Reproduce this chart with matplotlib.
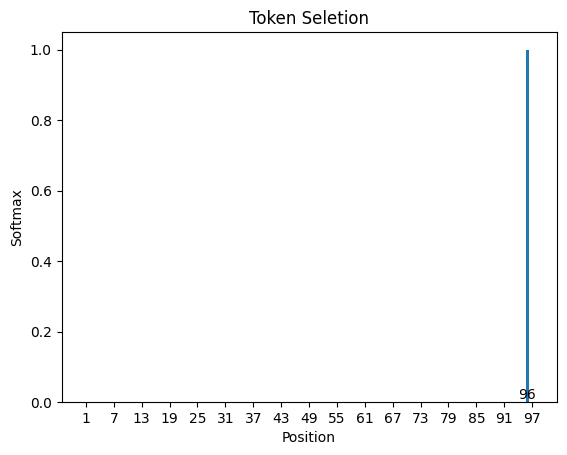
import matplotlib
matplotlib.use("Agg")
import matplotlib.pyplot as plt

positions = list(range(1, 98))
softmax = [0.0] * 95 + [1.0] + [0.0]
tick_positions = list(range(1, 98, 6))
top_position = 96

fig = plt.figure(figsize=(5.67, 4.55), dpi=100)
ax = fig.add_axes([61.5/567, 1-402/455, (556.5-61.5)/567, (402-32)/455])
ax.bar(positions, softmax)
ax.set_xticks(tick_positions)
ax.set_xticklabels([str(t) for t in tick_positions])
ax.text(top_position, 0, str(top_position), ha='center', va='bottom')
ax.set_title("Token Seletion")
ax.set_xlabel("Position")
ax.set_ylabel("Softmax")
fig.savefig("out.png")
